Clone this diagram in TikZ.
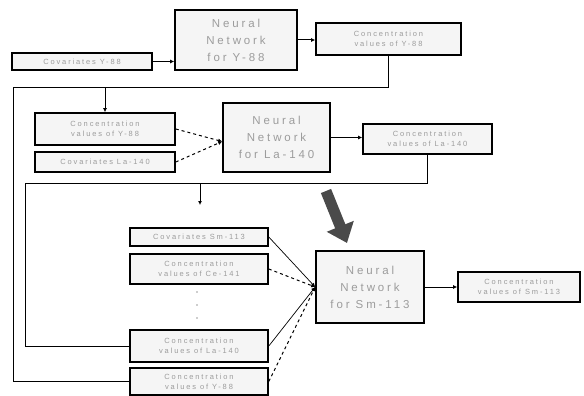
\documentclass[tikz,border=0pt]{standalone}
\usepackage{fontspec}
\setmainfont{Liberation Sans}
\newfontfamily\spacedfont[LetterSpace=25]{Liberation Sans}
\usetikzlibrary{arrows.meta,calc,positioning}
\definecolor{boxfill}{HTML}{F5F5F5}
\definecolor{textgray}{HTML}{9C9C9C}
\definecolor{bigarrow}{HTML}{4A4A4A}

\begin{document}
\begin{tikzpicture}[x=1pt,y=-1pt,>=Latex, every node/.style={font=\spacedfont\fontsize{7.5}{10}\selectfont},
  databox/.style={draw,line width=1.6pt,fill=boxfill,text=textgray,align=center,inner sep=1pt},
  netbox/.style={databox,font=\spacedfont\fontsize{11.5}{17}\selectfont},
  link/.style={line width=1pt,-{Latex[length=4pt,width=4pt]}},
  dlink/.style={link,dashed},
  feed/.style={line width=1pt}]
  \useasboundingbox[fill=white] (0,0) rectangle (584,396);
  % Y-88 stage
  \node[databox,minimum width=140,minimum height=17] (covY) at (82,61.5) {Covariates Y-88};
  \node[netbox,minimum width=122,minimum height=60] (nnY) at (236,40) {Neural\\Network\\for Y-88};
  \node[databox,minimum width=145,minimum height=32] (outY) at (388.5,39) {Concentration\\values of Y-88};
  % La-140 stage
  \node[databox,minimum width=140,minimum height=32] (inY) at (105,129) {Concentration\\values of Y-88};
  \node[databox,minimum width=140,minimum height=20] (covLa) at (105,162) {Covariates La-140};
  \node[netbox,minimum width=107,minimum height=69] (nnLa) at (276.5,137.5) {Neural\\Network\\for La-140};
  \node[databox,minimum width=129,minimum height=30] (outLa) at (427.5,139) {Concentration\\values of La-140};
  % Sm-113 stage
  \node[databox,minimum width=138,minimum height=18] (covSm) at (199,237) {Covariates Sm-113};
  \node[databox,minimum width=138,minimum height=30] (inCe) at (199,269) {Concentration\\values of Ce-141};
  \foreach \y in {292,305,318}
    \fill[textgray] (197,\y) circle (0.8);
  \node[databox,minimum width=138,minimum height=32] (inLa) at (199,346) {Concentration\\values of La-140};
  \node[databox,minimum width=138,minimum height=27] (inYb) at (199,381.5) {Concentration\\values of Y-88};
  \node[netbox,minimum width=108,minimum height=72] (nnSm) at (370,287) {Neural\\Network\\for Sm-113};
  \node[databox,minimum width=122,minimum height=30] (outSm) at (519,287) {Concentration\\values of Sm-113};
  \coordinate (busY) at (13,88);
  \coordinate (busLa) at (25,183);
  \coordinate (stub) at (200,205);

  \draw[link] (covY.east) -- (covY.east -| nnY.west);
  \draw[link] (nnY.east) -- (nnY.east -| outY.west);
  \draw[feed] (outY.south) |- (busY) |- (inYb.west);
  \draw[link] (inY.north |- busY) -- (inY.north);
  \draw[dlink] (inY.east) -- ($(nnLa.west)+(0,4)$);
  \draw[dlink] (covLa.east) -- ($(nnLa.west)+(0,4)$);
  \draw[link] (nnLa.east) -- (nnLa.east -| outLa.west);
  \draw[feed] (outLa.south) |- (busLa) |- (inLa.west);
  \draw[link] (stub |- busLa) -- (stub);
  \draw[line width=11pt,bigarrow,-{Triangle[length=18pt,width=28pt]}] (326,191) -- (347,243);
  \draw[link,line width=0.7pt] (covSm.east) -- (nnSm.west);
  \draw[dlink] (inCe.east) -- (nnSm.west);
  \draw[link,line width=0.7pt] (inLa.east) -- (nnSm.west);
  \draw[dlink] (inYb.east) -- (nnSm.west);
  \draw[link] (nnSm.east) -- (nnSm.east -| outSm.west);
\end{tikzpicture}
\end{document}
